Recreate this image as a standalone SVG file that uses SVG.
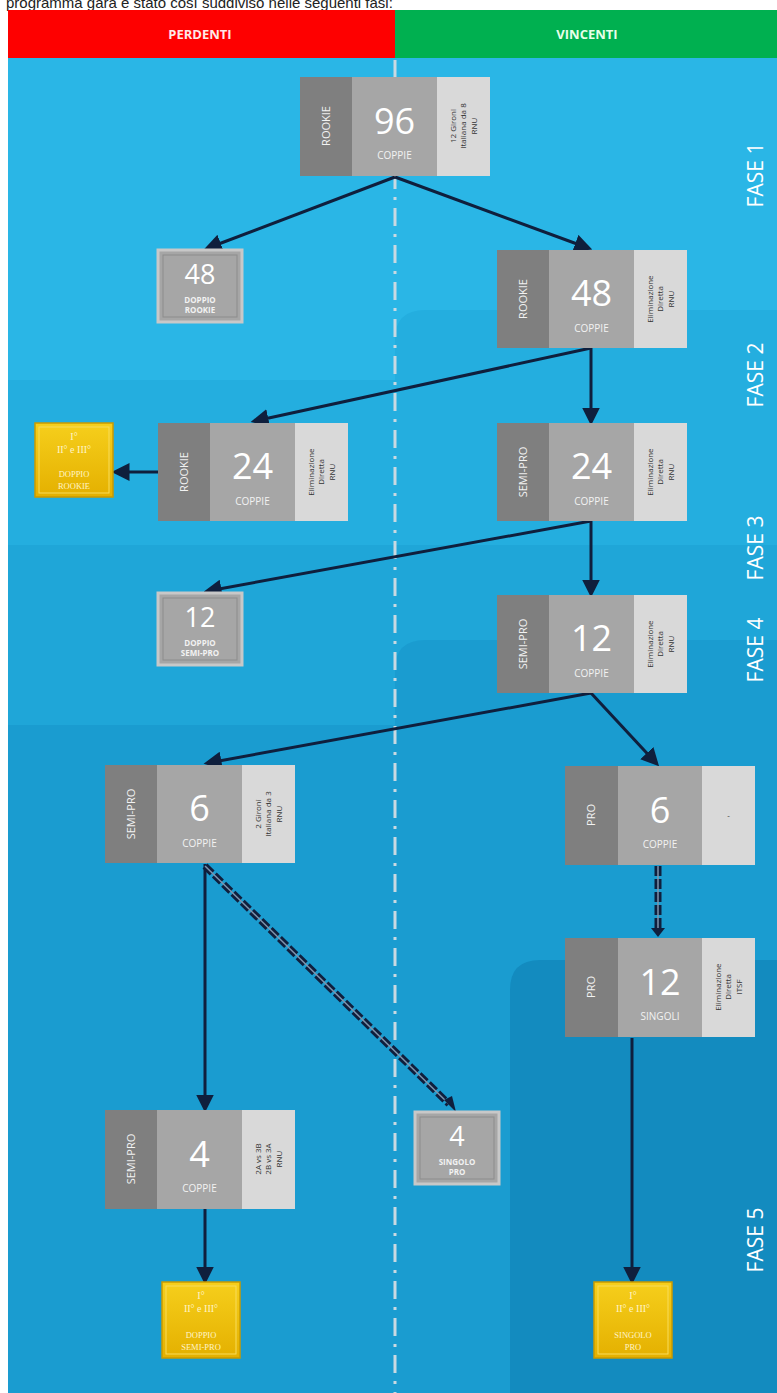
<svg xmlns="http://www.w3.org/2000/svg" width="777" height="1393" viewBox="0 0 777 1393">
<defs>
<style>
.hdr{font-family:"Open Sans","Liberation Sans",sans-serif;font-size:13px;font-weight:bold;fill:#ffe8e8;text-anchor:middle}
.num{font-family:"Open Sans","Liberation Sans",sans-serif;font-size:36px;fill:#ffffff;text-anchor:middle}
.numb{font-family:"Open Sans","Liberation Sans",sans-serif;font-size:27px;fill:#ffffff;text-anchor:middle}
.sub{font-family:"Open Sans","Liberation Sans",sans-serif;font-size:10px;fill:#f2f2f2;text-anchor:middle}
.subb{font-family:"Open Sans","Liberation Sans",sans-serif;font-size:8px;font-weight:bold;fill:#f2f2f2;text-anchor:middle}
.cat{font-family:"Open Sans","Liberation Sans",sans-serif;font-size:11px;fill:#f2f2f2;text-anchor:middle}
.info{font-family:"Open Sans","Liberation Sans",sans-serif;font-size:8px;fill:#333333;text-anchor:middle}
.fase{font-family:"Open Sans","Liberation Sans",sans-serif;font-size:21px;fill:#ffffff;text-anchor:middle}
.gold{font-family:"Liberation Serif",serif;font-size:10px;fill:#fff4c8;text-anchor:middle}
.s1{fill:#7f7f7f}.s2{fill:#a6a6a6}.s3{fill:#d9d9d9}
.conn{stroke:#0f1f3d;stroke-width:3;fill:none}
</style>
<marker id="arr" markerWidth="6" markerHeight="6" refX="4.5" refY="3" orient="auto" markerUnits="strokeWidth">
<path d="M0,0 L6,3 L0,6 Z" fill="#0f1f3d"/>
</marker>
<linearGradient id="goldg" x1="0" y1="0" x2="0" y2="1">
<stop offset="0" stop-color="#f6cf1c"/>
<stop offset="1" stop-color="#e4b000"/>
</linearGradient>
</defs>

<!-- cut-off text at top -->
<text x="6" y="8" font-family="Liberation Sans, sans-serif" font-size="15" fill="#222">programma gara è stato così suddiviso nelle seguenti fasi:</text>

<!-- background -->
<rect x="8" y="58" width="769" height="1335" fill="#2ab6e6"/>
<path d="M8,380 H395 V340 Q395,310 425,310 H777 V1393 H8 Z" fill="#24aedf"/>
<path d="M8,545 H777 V1393 H8 Z" fill="#1fa6d8"/>
<path d="M8,725 H395 V670 Q395,640 425,640 H777 V1393 H8 Z" fill="#1a9cd0"/>
<path d="M510,1393 V990 Q510,960 540,960 H777 V1393 Z" fill="#138bbf"/>

<!-- header -->
<rect x="8" y="10" width="387" height="48" fill="#fe0000"/>
<rect x="395" y="10" width="382" height="48" fill="#00b050"/>
<text class="hdr" x="200" y="39">PERDENTI</text>
<text class="hdr" x="587" y="39" style="fill:#e8ffe8">VINCENTI</text>

<!-- center dash-dot line -->
<line x1="395" y1="60" x2="395" y2="1393" stroke="#c9d9e2" stroke-width="3" stroke-dasharray="18 8 3 8"/>

<!-- FASE labels -->
<text class="fase" transform="translate(763,175) rotate(-90)">FASE 1</text>
<text class="fase" transform="translate(763,375) rotate(-90)">FASE 2</text>
<text class="fase" transform="translate(763,548) rotate(-90)">FASE 3</text>
<text class="fase" transform="translate(763,650) rotate(-90)">FASE 4</text>
<text class="fase" transform="translate(763,1240) rotate(-90)">FASE 5</text>

<!-- connectors -->
<g id="connectors">
<line class="conn" x1="395" y1="177" x2="208" y2="248" marker-end="url(#arr)"/>
<line class="conn" x1="395" y1="177" x2="588" y2="248" marker-end="url(#arr)"/>
<line class="conn" x1="591" y1="348" x2="255" y2="421" marker-end="url(#arr)"/>
<line class="conn" x1="591" y1="348" x2="591" y2="421" marker-end="url(#arr)"/>
<line class="conn" x1="158" y1="472" x2="116" y2="472" marker-end="url(#arr)"/>
<line class="conn" x1="591" y1="521" x2="208" y2="591" marker-end="url(#arr)"/>
<line class="conn" x1="591" y1="521" x2="591" y2="593" marker-end="url(#arr)"/>
<line class="conn" x1="591" y1="693" x2="208" y2="763" marker-end="url(#arr)"/>
<line class="conn" x1="591" y1="693" x2="656" y2="763" marker-end="url(#arr)"/>
<line class="conn" x1="205" y1="864" x2="205" y2="1108" marker-end="url(#arr)"/>
<line class="conn" x1="205" y1="1209" x2="205" y2="1280" marker-end="url(#arr)"/>
<line class="conn" x1="632" y1="1038" x2="632" y2="1280" marker-end="url(#arr)"/>
<!-- double dashed -->
<line x1="658" y1="866" x2="658" y2="930" stroke="#0f1f3d" stroke-width="7" stroke-dasharray="10 3"/>
<line x1="658" y1="866" x2="658" y2="930" stroke="#7f94ad" stroke-width="1.5"/>
<path d="M651,928 L665,928 L658,937 Z" fill="#0f1f3d"/>
<line x1="205" y1="866" x2="449" y2="1104" stroke="#0f1f3d" stroke-width="7" stroke-dasharray="10 3"/>
<line x1="205" y1="866" x2="449" y2="1104" stroke="#7f94ad" stroke-width="1.5"/>
<path d="M444,1100 L456,1112 L452,1096 Z" fill="#0f1f3d"/>
</g>

<!-- node 96 -->
<g id="n96" transform="translate(300,77)">
<rect class="s1" width="52" height="99"/><rect class="s2" x="52" width="85" height="99"/><rect class="s3" x="137" width="53" height="99"/>
<text class="num" x="94.5" y="57">96</text><text class="sub" x="94.5" y="82">COPPIE</text>
<text class="cat" transform="translate(26,49) rotate(-90)" dy="4">ROOKIE</text>
<g transform="translate(163.5,49) rotate(-90)"><text class="info" y="-8">12 Gironi</text><text class="info" y="2.5">Italiana da 8</text><text class="info" y="13">RNU</text></g>
</g>

<!-- node 48 right -->
<g id="n48r" transform="translate(497,250)">
<rect class="s1" width="52" height="98"/><rect class="s2" x="52" width="85" height="98"/><rect class="s3" x="137" width="53" height="98"/>
<text class="num" x="94.5" y="56">48</text><text class="sub" x="94.5" y="82">COPPIE</text>
<text class="cat" transform="translate(26,49) rotate(-90)" dy="4">ROOKIE</text>
<g transform="translate(163.5,49) rotate(-90)"><text class="info" y="-8">Eliminazione</text><text class="info" y="2.5">Diretta</text><text class="info" y="13">RNU</text></g>
</g>

<!-- node 48 left -->
<g id="n48l" transform="translate(158,250)">
<rect width="84" height="72" fill="#a6a6a6" stroke="#c8c8c8" stroke-width="3"/>
<rect x="5" y="5" width="74" height="62" fill="none" stroke="#8c8c8c" stroke-width="1"/>
<text class="numb" x="42" y="34">48</text>
<text class="subb" x="42" y="53">DOPPIO</text><text class="subb" x="42" y="63">ROOKIE</text>
</g>

<!-- node 24 left -->
<g id="n24l" transform="translate(158,423)">
<rect class="s1" width="52" height="98"/><rect class="s2" x="52" width="85" height="98"/><rect class="s3" x="137" width="53" height="98"/>
<text class="num" x="94.5" y="56">24</text><text class="sub" x="94.5" y="82">COPPIE</text>
<text class="cat" transform="translate(26,49) rotate(-90)" dy="4">ROOKIE</text>
<g transform="translate(163.5,49) rotate(-90)"><text class="info" y="-8">Eliminazione</text><text class="info" y="2.5">Diretta</text><text class="info" y="13">RNU</text></g>
</g>

<!-- gold 1 -->
<g id="gold1" transform="translate(35,423)">
<rect width="78" height="74" fill="url(#goldg)" stroke="#c99a00" stroke-width="1.5"/>
<rect x="4" y="4" width="70" height="66" fill="none" stroke="#f8dc5a" stroke-width="1"/>
<text class="gold" x="39" y="17">I°</text><text class="gold" x="39" y="30">II° e III°</text>
<text class="gold" x="39" y="54" style="font-size:8.5px">DOPPIO</text><text class="gold" x="39" y="66" style="font-size:8.5px">ROOKIE</text>
</g>

<!-- node 24 right -->
<g id="n24r" transform="translate(497,423)">
<rect class="s1" width="52" height="98"/><rect class="s2" x="52" width="85" height="98"/><rect class="s3" x="137" width="53" height="98"/>
<text class="num" x="94.5" y="56">24</text><text class="sub" x="94.5" y="82">COPPIE</text>
<text class="cat" transform="translate(26,49) rotate(-90)" dy="4">SEMI-PRO</text>
<g transform="translate(163.5,49) rotate(-90)"><text class="info" y="-8">Eliminazione</text><text class="info" y="2.5">Diretta</text><text class="info" y="13">RNU</text></g>
</g>

<!-- node 12 left -->
<g id="n12l" transform="translate(158,593)">
<rect width="84" height="72" fill="#a6a6a6" stroke="#c8c8c8" stroke-width="3"/>
<rect x="5" y="5" width="74" height="62" fill="none" stroke="#8c8c8c" stroke-width="1"/>
<text class="numb" x="42" y="34">12</text>
<text class="subb" x="42" y="53">DOPPIO</text><text class="subb" x="42" y="63">SEMI-PRO</text>
</g>

<!-- node 12 right -->
<g id="n12r" transform="translate(497,595)">
<rect class="s1" width="52" height="98"/><rect class="s2" x="52" width="85" height="98"/><rect class="s3" x="137" width="53" height="98"/>
<text class="num" x="94.5" y="56">12</text><text class="sub" x="94.5" y="82">COPPIE</text>
<text class="cat" transform="translate(26,49) rotate(-90)" dy="4">SEMI-PRO</text>
<g transform="translate(163.5,49) rotate(-90)"><text class="info" y="-8">Eliminazione</text><text class="info" y="2.5">Diretta</text><text class="info" y="13">RNU</text></g>
</g>

<!-- node 6 left -->
<g id="n6l" transform="translate(105,765)">
<rect class="s1" width="52" height="98"/><rect class="s2" x="52" width="85" height="98"/><rect class="s3" x="137" width="53" height="98"/>
<text class="num" x="94.5" y="56">6</text><text class="sub" x="94.5" y="82">COPPIE</text>
<text class="cat" transform="translate(26,49) rotate(-90)" dy="4">SEMI-PRO</text>
<g transform="translate(163.5,49) rotate(-90)"><text class="info" y="-8">2 Gironi</text><text class="info" y="2.5">Italiana da 3</text><text class="info" y="13">RNU</text></g>
</g>

<!-- node 6 right PRO -->
<g id="n6r" transform="translate(565,766)">
<rect class="s1" width="53" height="99"/><rect class="s2" x="53" width="84" height="99"/><rect class="s3" x="137" width="53" height="99"/>
<text class="num" x="95" y="57">6</text><text class="sub" x="95" y="82">COPPIE</text>
<text class="cat" transform="translate(26,49) rotate(-90)" dy="4">PRO</text>
<text class="info" x="163.5" y="52">-</text>
</g>

<!-- node 12 singoli -->
<g id="n12s" transform="translate(565,938)">
<rect class="s1" width="53" height="99"/><rect class="s2" x="53" width="84" height="99"/><rect class="s3" x="137" width="53" height="99"/>
<text class="num" x="95" y="57">12</text><text class="sub" x="95" y="82">SINGOLI</text>
<text class="cat" transform="translate(26,49) rotate(-90)" dy="4">PRO</text>
<g transform="translate(163.5,49) rotate(-90)"><text class="info" y="-8">Eliminazione</text><text class="info" y="2.5">Diretta</text><text class="info" y="13">ITSF</text></g>
</g>

<!-- node 4 semi-pro -->
<g id="n4l" transform="translate(105,1110)">
<rect class="s1" width="52" height="99"/><rect class="s2" x="52" width="85" height="99"/><rect class="s3" x="137" width="53" height="99"/>
<text class="num" x="94.5" y="57">4</text><text class="sub" x="94.5" y="82">COPPIE</text>
<text class="cat" transform="translate(26,49) rotate(-90)" dy="4">SEMI-PRO</text>
<g transform="translate(163.5,49) rotate(-90)"><text class="info" y="-8">2A vs 3B</text><text class="info" y="2.5">2B vs 3A</text><text class="info" y="13">RNU</text></g>
</g>

<!-- node 4 singolo pro -->
<g id="n4r" transform="translate(415,1112)">
<rect width="84" height="72" fill="#a6a6a6" stroke="#c8c8c8" stroke-width="3"/>
<rect x="5" y="5" width="74" height="62" fill="none" stroke="#8c8c8c" stroke-width="1"/>
<text class="numb" x="42" y="34">4</text>
<text class="subb" x="42" y="53">SINGOLO</text><text class="subb" x="42" y="63">PRO</text>
</g>

<!-- gold 2 -->
<g id="gold2" transform="translate(162,1282)">
<rect width="78" height="76" fill="url(#goldg)" stroke="#c99a00" stroke-width="1.5"/>
<rect x="4" y="4" width="70" height="68" fill="none" stroke="#f8dc5a" stroke-width="1"/>
<text class="gold" x="39" y="17">I°</text><text class="gold" x="39" y="30">II° e III°</text>
<text class="gold" x="39" y="56" style="font-size:8.5px">DOPPIO</text><text class="gold" x="39" y="68" style="font-size:8.5px">SEMI-PRO</text>
</g>

<!-- gold 3 -->
<g id="gold3" transform="translate(594,1282)">
<rect width="78" height="76" fill="url(#goldg)" stroke="#c99a00" stroke-width="1.5"/>
<rect x="4" y="4" width="70" height="68" fill="none" stroke="#f8dc5a" stroke-width="1"/>
<text class="gold" x="39" y="17">I°</text><text class="gold" x="39" y="30">II° e III°</text>
<text class="gold" x="39" y="56" style="font-size:8.5px">SINGOLO</text><text class="gold" x="39" y="68" style="font-size:8.5px">PRO</text>
</g>
</svg>
